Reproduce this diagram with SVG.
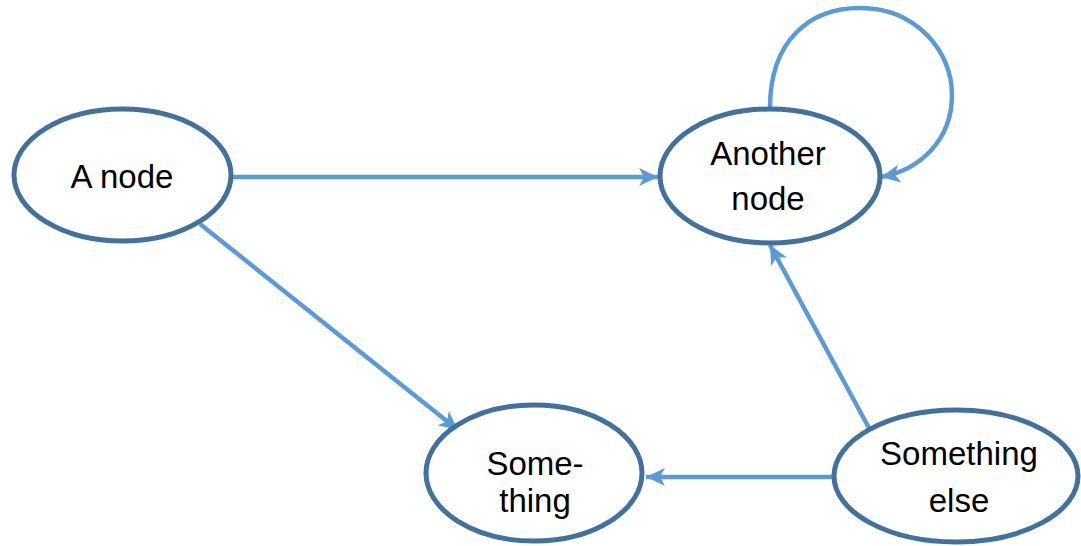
<svg xmlns="http://www.w3.org/2000/svg" width="1081" height="546" viewBox="0 0 1081 546">
  <style>
    .node ellipse { fill: #ffffff; stroke: #41719c; stroke-width: 5; }
    .node text { font-family: "Liberation Sans", Arial, sans-serif; font-size: 33px; fill: #000000; text-anchor: middle; }
    .edge { fill: none; stroke: #5b9bd5; stroke-width: 4.5; marker-end: url(#arrow); }
  </style>
  <defs>
    <marker id="arrow" viewBox="-20 -10 22 20" refX="0" refY="0" markerWidth="22" markerHeight="20" markerUnits="userSpaceOnUse" orient="auto">
      <path d="M0,0 L-19,-9 L-14,0 L-19,9 Z" fill="#5b9bd5"/>
    </marker>
  </defs>

  <g id="connectors">
    <path class="edge" d="M233,177 L658,177"/>
    <path class="edge" d="M200,224 L458,430"/>
    <path class="edge" d="M832,477 L646,477"/>
    <path class="edge" d="M869,428 L770,245"/>
    <path class="edge" d="M770,108 C770,40 810,8 860,8 C915,8 952,50 952,95 C952,140 920,170 881,177"/>
  </g>

  <g id="node-a" class="node">
    <ellipse cx="122.5" cy="175" rx="108.5" ry="66"/>
    <text x="122" y="188">A node</text>
  </g>

  <g id="node-another" class="node">
    <ellipse cx="770" cy="176" rx="110" ry="67"/>
    <text x="768" y="165">Another</text>
    <text x="768" y="210">node</text>
  </g>

  <g id="node-something" class="node">
    <ellipse cx="534" cy="473" rx="108" ry="68"/>
    <text x="535" y="475">Some-</text>
    <text x="535" y="512">thing</text>
  </g>

  <g id="node-something-else" class="node">
    <ellipse cx="956" cy="476" rx="122" ry="66"/>
    <text x="959" y="465">Something</text>
    <text x="959" y="512">else</text>
  </g>
</svg>
